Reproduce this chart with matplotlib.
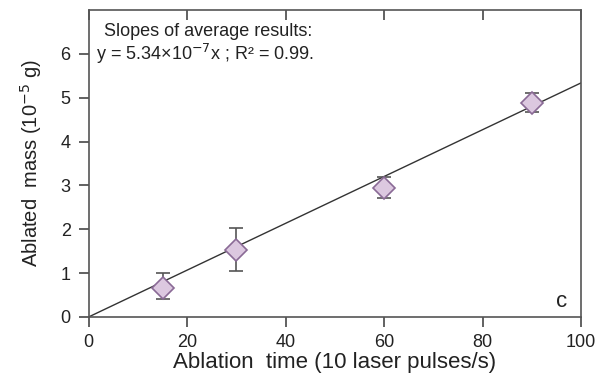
import matplotlib
matplotlib.use("Agg")
import matplotlib.pyplot as plt
import matplotlib.lines as mlines
import numpy as np

plt.rcParams['font.family'] = ['Liberation Sans', 'DejaVu Sans']

# ablation time (s) and ablated mass (1e-5 g)
times = [15, 30, 60, 90]
mass = [0.65, 1.53, 2.95, 4.88]
err_low = [0.25, 0.48, 0.23, 0.21]
err_high = [0.35, 0.49, 0.25, 0.22]
slope = 0.0534
fit_x = [0, 100]
xticks = [0, 20, 40, 60, 80, 100]
yticks = [0, 1, 2, 3, 4, 5, 6]

fig = plt.figure(figsize=(5.96, 3.75), dpi=100)
ax = fig.add_axes([0.149, 0.155, 0.826, 0.818])

fit_y = [slope * v for v in fit_x]
ax.plot(fit_x, fit_y, color='#333333', lw=1.0, zorder=2)
ax.errorbar(times, mass, yerr=[err_low, err_high], fmt='none', ecolor='#555555',
            elinewidth=1.2, capsize=5, capthick=1.2, zorder=3)
ax.plot(times, mass, 'D', ms=11, mfc='#dcc8e0', mec='#8a6a96', mew=1.2, zorder=4)

ax.set_xlim(0, 100)
ax.set_ylim(0, 7)
ax.set_xticks(xticks)
ax.set_yticks(yticks)
for s in ax.spines.values():
    s.set_color('#555555')
    s.set_linewidth(1.2)
ax.tick_params(axis='both', labelsize=13, colors='#555555', labelcolor='#222222',
               length=7, width=1.3)
ax.tick_params(axis='y', pad=6)
# x ticks: inward on top, outward at the bottom
ax.tick_params(axis='x', top=True, direction='in', pad=12)
for t in ax.xaxis.get_major_ticks():
    t.tick1line.set_marker(mlines.TICKDOWN)

ax.set_xlabel('Ablation  time (10 laser pulses/s)', fontsize=16, labelpad=1, color='#222222')
ax.set_ylabel('Ablated  mass (10$^{-5}$ g)', fontsize=14.5, labelpad=12, color='#222222')

ax.text(3, 6.52, 'Slopes of average results:', fontsize=13, color='#222222', va='center')
ax.text(1.5, 6.0, 'y = 5.34\u00d710$^{-7}$x ; R\u00b2 = 0.99.', fontsize=13, color='#222222', va='center')
ax.text(96, 0.35, 'c', fontsize=16, color='#222222', ha='center', va='center')

fig.savefig('out.png', dpi=100)
